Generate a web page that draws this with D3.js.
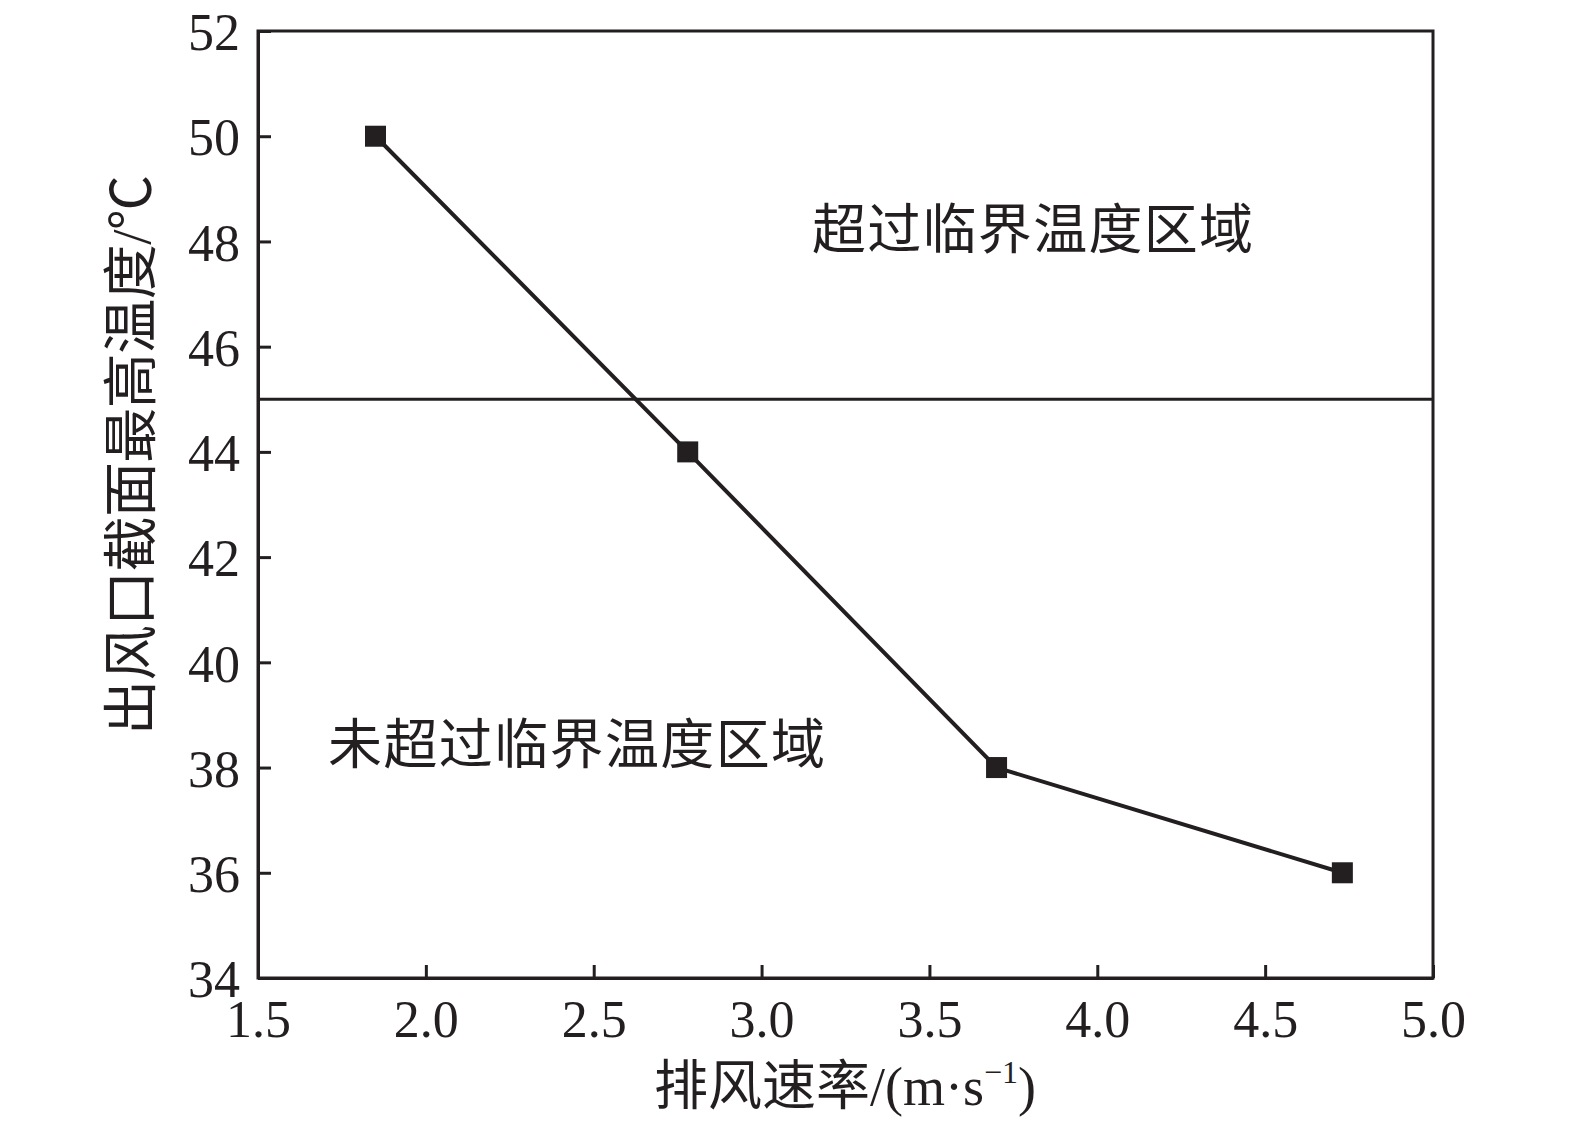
<!DOCTYPE html>
<html><head><meta charset="utf-8">
<script src="https://cdn.jsdelivr.net/npm/d3@7/dist/d3.min.js"></script>
<style>body{margin:0;background:#fff}svg{display:block}</style>
</head><body>
<svg id="c" width="1575" height="1128"></svg>
<script>
const speeds = [1.85, 2.78, 3.7, 4.73];
const temps = [50, 44, 38, 36];
const criticalTemp = 45;
const xTicks = [1.5, 2.0, 2.5, 3.0, 3.5, 4.0, 4.5, 5.0];
const yTicks = [34, 36, 38, 40, 42, 44, 46, 48, 50, 52];
const xLabel = "排风速率/(m·s";
const yLabel = "出风口截面最高温度/℃";
const upperText = "超过临界温度区域";
const lowerText = "未超过临界温度区域";

const font = "'Liberation Serif','Times New Roman','Noto Sans CJK SC',serif";
const svg = d3.select("#c");
const L = 258, R = 1433, T = 31, B = 978;
const x = d3.scaleLinear().domain([1.5, 5.0]).range([L, R]);
const y = d3.scaleLinear().domain([34, 52]).range([B, T]);
const ink = "#231f20";

// frame
svg.append("rect").attr("x", L).attr("y", T).attr("width", R - L).attr("height", B - T)
  .attr("fill", "none").attr("stroke", ink).attr("stroke-width", 3);

const xa = svg.append("g").attr("transform", `translate(0,${B})`)
  .call(d3.axisBottom(x).tickValues(xTicks).tickFormat(d3.format(".1f")).tickSizeInner(-13).tickSizeOuter(0).tickPadding(22));
const ya = svg.append("g").attr("transform", `translate(${L},0)`)
  .call(d3.axisLeft(y).tickValues(yTicks).tickFormat(d3.format("d")).tickSizeInner(-13).tickSizeOuter(0).tickPadding(18));
[xa, ya].forEach(a => {
  a.select(".domain").attr("stroke", ink).attr("stroke-width", 3);
  a.selectAll(".tick line").attr("stroke", ink).attr("stroke-width", 3);
  a.selectAll("text").attr("fill", ink).style("font-family", font).style("font-size", "52px");
});
xa.selectAll(".tick text").attr("dy", "0.71em");
ya.selectAll(".tick text").attr("dy", "0.36em");

// critical line
svg.append("line").attr("x1", L).attr("x2", R).attr("y1", y(criticalTemp)).attr("y2", y(criticalTemp))
  .attr("stroke", ink).attr("stroke-width", 3);

// data line
const pts = speeds.map((s, i) => [s, temps[i]]);
svg.append("path").datum(pts)
  .attr("d", d3.line().x(d => x(d[0])).y(d => y(d[1])))
  .attr("fill", "none").attr("stroke", ink).attr("stroke-width", 4);
svg.selectAll("rect.m").data(pts).enter().append("rect").attr("class", "m")
  .attr("x", d => x(d[0]) - 10.5).attr("y", d => y(d[1]) - 10.5)
  .attr("width", 21).attr("height", 21).attr("fill", ink);

// annotations
svg.append("text").attr("x", 812).attr("y", 230).attr("dy", "0.36em")
  .style("font-family", font).style("font-size", "54px").attr("fill", ink)
  .attr("textLength", 441).text(upperText);
svg.append("text").attr("x", 328).attr("y", 745).attr("dy", "0.36em")
  .style("font-family", font).style("font-size", "54px").attr("fill", ink)
  .attr("textLength", 497).text(lowerText);

// x label
const xl = svg.append("text").attr("x", 845).attr("y", 1105).attr("text-anchor", "middle")
  .style("font-family", font).style("font-size", "54px").attr("fill", ink);
xl.append("tspan").text(xLabel);
xl.append("tspan").attr("dy", -22).style("font-size", "32px").text("−1");
xl.append("tspan").attr("dy", 22).text(")");

// y label
svg.append("text").attr("transform", "translate(150,455) rotate(-90)").attr("text-anchor", "middle")
  .style("font-family", font).style("font-size", "55px").attr("fill", ink)
  .attr("textLength", 560).text(yLabel);
</script>
</body></html>
